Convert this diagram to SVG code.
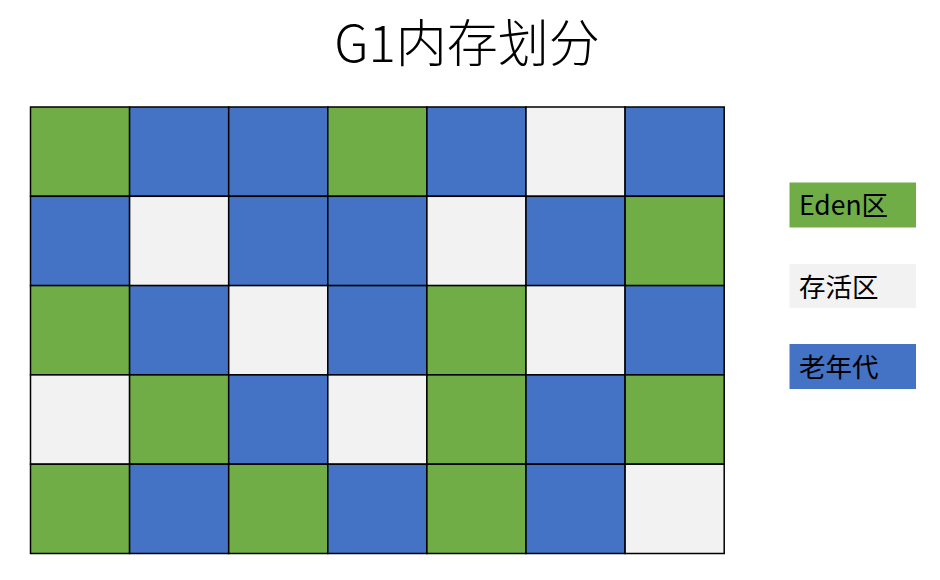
<svg xmlns="http://www.w3.org/2000/svg" width="940" height="580" viewBox="0 0 940 580">
<style>
.g{fill:#70AD47}.b{fill:#4472C4}.w{fill:#F2F2F2}
.cell rect{stroke:#000;stroke-width:1.5}
.t{font-family:"Noto Sans CJK SC","Noto Sans",sans-serif;fill:#000}
</style>
<rect width="940" height="580" fill="#fff"/>
<text class="t" x="467" y="62" font-size="51" font-weight="300" text-anchor="middle">G1内存划分</text>
<g id="grid" class="cell">
<rect class="g" x="30.5" y="107" width="99.1" height="89.3"/>
<rect class="b" x="129.6" y="107" width="99.1" height="89.3"/>
<rect class="b" x="228.7" y="107" width="99.1" height="89.3"/>
<rect class="g" x="327.8" y="107" width="99.1" height="89.3"/>
<rect class="b" x="426.9" y="107" width="99.1" height="89.3"/>
<rect class="w" x="526" y="107" width="99.1" height="89.3"/>
<rect class="b" x="625.1" y="107" width="99.1" height="89.3"/>

<rect class="b" x="30.5" y="196.3" width="99.1" height="89.3"/>
<rect class="w" x="129.6" y="196.3" width="99.1" height="89.3"/>
<rect class="b" x="228.7" y="196.3" width="99.1" height="89.3"/>
<rect class="b" x="327.8" y="196.3" width="99.1" height="89.3"/>
<rect class="w" x="426.9" y="196.3" width="99.1" height="89.3"/>
<rect class="b" x="526" y="196.3" width="99.1" height="89.3"/>
<rect class="g" x="625.1" y="196.3" width="99.1" height="89.3"/>

<rect class="g" x="30.5" y="285.6" width="99.1" height="89.3"/>
<rect class="b" x="129.6" y="285.6" width="99.1" height="89.3"/>
<rect class="w" x="228.7" y="285.6" width="99.1" height="89.3"/>
<rect class="b" x="327.8" y="285.6" width="99.1" height="89.3"/>
<rect class="g" x="426.9" y="285.6" width="99.1" height="89.3"/>
<rect class="w" x="526" y="285.6" width="99.1" height="89.3"/>
<rect class="b" x="625.1" y="285.6" width="99.1" height="89.3"/>

<rect class="w" x="30.5" y="374.9" width="99.1" height="89.3"/>
<rect class="g" x="129.6" y="374.9" width="99.1" height="89.3"/>
<rect class="b" x="228.7" y="374.9" width="99.1" height="89.3"/>
<rect class="w" x="327.8" y="374.9" width="99.1" height="89.3"/>
<rect class="g" x="426.9" y="374.9" width="99.1" height="89.3"/>
<rect class="b" x="526" y="374.9" width="99.1" height="89.3"/>
<rect class="g" x="625.1" y="374.9" width="99.1" height="89.3"/>

<rect class="g" x="30.5" y="464.2" width="99.1" height="89.3"/>
<rect class="b" x="129.6" y="464.2" width="99.1" height="89.3"/>
<rect class="g" x="228.7" y="464.2" width="99.1" height="89.3"/>
<rect class="b" x="327.8" y="464.2" width="99.1" height="89.3"/>
<rect class="g" x="426.9" y="464.2" width="99.1" height="89.3"/>
<rect class="b" x="526" y="464.2" width="99.1" height="89.3"/>
<rect class="w" x="625.1" y="464.2" width="99.1" height="89.3"/>
</g>
<g id="legend-eden">
<rect class="g" x="789.5" y="182.5" width="126.5" height="45"/>
<text class="t" x="799" y="215" font-size="26.5">Eden区</text>
</g>
<g id="legend-survivor">
<rect class="w" x="789.5" y="264" width="126.5" height="44"/>
<text class="t" x="799" y="297" font-size="26.5">存活区</text>
</g>
<g id="legend-old">
<rect class="b" x="789.5" y="344" width="126.5" height="45"/>
<text class="t" x="799" y="377" font-size="26.5">老年代</text>
</g>
<g id="connectors"/>
</svg>
